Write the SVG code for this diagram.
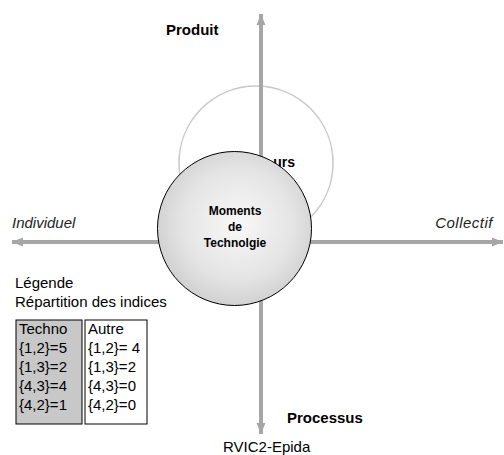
<svg xmlns="http://www.w3.org/2000/svg" width="504" height="455" viewBox="0 0 504 455">
<style>
text{font-family:"Liberation Sans",Arial,sans-serif;fill:#000}
.b{font-weight:bold}
.axis{stroke:#a6a6a6;stroke-width:4;fill:none}
.it{font-style:italic;font-size:15px;fill:#222}
.tb{font-size:15px}
</style>
<defs>
<marker id="ah" markerUnits="userSpaceOnUse" markerWidth="12" markerHeight="12" viewBox="0 0 12 12" refX="11" refY="6" orient="auto">
<path d="M0,1.5 L11,6 L0,10.5 Z" fill="#a6a6a6"/>
</marker>
<radialGradient id="g" cx="0.52" cy="0.47" r="0.6">
<stop offset="0" stop-color="#f8f8f8"/>
<stop offset="0.6" stop-color="#e4e4e4"/>
<stop offset="1" stop-color="#cacaca"/>
</radialGradient>
</defs>
<g id="circle-valeurs">
<circle cx="256" cy="163" r="77" fill="none" stroke="#c8c8c8" stroke-width="1.5"/>
</g>
<g id="connectors">
<line class="axis" x1="261" y1="242" x2="261" y2="14" marker-end="url(#ah)"/>
<line class="axis" x1="261" y1="242" x2="261" y2="434" marker-end="url(#ah)"/>
<line class="axis" x1="261" y1="242" x2="12" y2="242" marker-end="url(#ah)"/>
<line class="axis" x1="261" y1="242" x2="503" y2="242" marker-end="url(#ah)"/>
</g>
<g id="label-valeurs"><text class="b" x="295" y="167" font-size="14" text-anchor="end">urs</text></g>
<g id="node-moments">
<circle cx="234.5" cy="228.5" r="77" fill="url(#g)" stroke="#000" stroke-width="1"/>
<text class="b" x="235" y="215" font-size="12" text-anchor="middle">Moments</text>
<text class="b" x="235" y="231" font-size="12" text-anchor="middle">de</text>
<text class="b" x="235" y="247" font-size="12" text-anchor="middle">Technolgie</text>
</g>
<g id="labels">
<text class="b" x="166" y="35" font-size="15">Produit</text>
<text class="b" x="287" y="423" font-size="15">Processus</text>
<text x="223" y="452" font-size="15">RVIC2-Epida</text>
<text class="it" x="12" y="228">Individuel</text>
<text class="it" x="493" y="228" text-anchor="end" letter-spacing="0.5">Collectif</text>
</g>
<g id="legend">
<text x="15" y="288" font-size="15">Légende</text>
<text x="15" y="307" font-size="15">Répartition des indices</text>
</g>
<g id="table-techno">
<rect x="16" y="320" width="66" height="104" fill="#c8c8c8" stroke="#000" stroke-width="1"/>
<text class="tb" x="19" y="334">Techno</text>
<text class="tb" x="19" y="353">{1,2}=5</text>
<text class="tb" x="19" y="372">{1,3}=2</text>
<text class="tb" x="19" y="391">{4,3}=4</text>
<text class="tb" x="19" y="410">{4,2}=1</text>
</g>
<g id="table-autre">
<rect x="85" y="320" width="62" height="104" fill="#fff" stroke="#000" stroke-width="1"/>
<text class="tb" x="88" y="334">Autre</text>
<text class="tb" x="88" y="353">{1,2}= 4</text>
<text class="tb" x="88" y="372">{1,3}=2</text>
<text class="tb" x="88" y="391">{4,3}=0</text>
<text class="tb" x="88" y="410">{4,2}=0</text>
</g>
</svg>
